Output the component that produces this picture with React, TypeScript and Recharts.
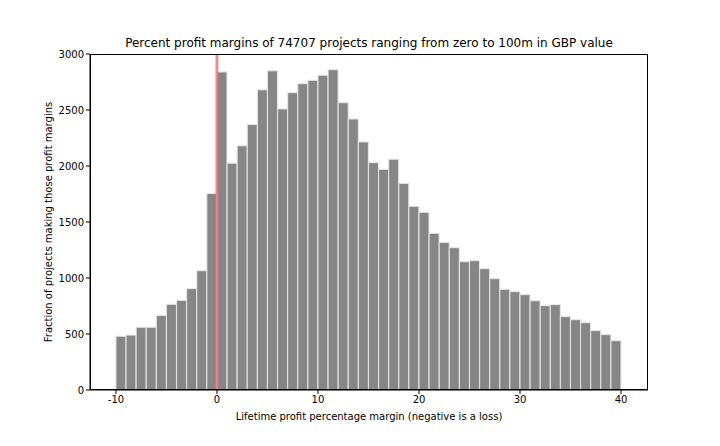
import { Bar, ComposedChart, ReferenceLine, XAxis, YAxis } from "recharts";

const binStarts = Array.from({ length: 50 }, (_, i) => i - 10);
const counts = [
  480, 490, 560, 560, 665, 765, 800, 905, 1065, 1755,
  2840, 2025, 2180, 2370, 2680, 2850, 2510, 2655, 2735, 2765,
  2810, 2860, 2565, 2420, 2215, 2030, 1970, 2060, 1845, 1640,
  1587, 1399, 1318, 1271, 1146, 1155, 1083, 994, 899, 878,
  851, 797, 753, 762, 655, 628, 601, 530, 494, 440,
];
const xTicks = [-10, 0, 10, 20, 30, 40];
const yTicks = [0, 500, 1000, 1500, 2000, 2500, 3000];

const data = binStarts.map((b, i) => ({ mid: b + 0.5, count: counts[i] }));

const font = "DejaVu Sans, sans-serif";

export default function App() {
  return (
    <div style={{ position: "absolute", left: 0, top: 0, width: 720, height: 446, fontFamily: font, background: "#fff" }}>
      <div style={{ position: "absolute", top: 36, left: 90, width: 558, textAlign: "center", fontSize: 12 }}>
        Percent profit margins of 74707 projects ranging from zero to 100m in GBP value
      </div>
      <ComposedChart
        width={720}
        height={446}
        data={data}
        margin={{ top: 54, right: 72, bottom: 26, left: 40 }}
        barCategoryGap={0}
      >
        <XAxis
          dataKey="mid"
          type="number"
          domain={[-12.57, 42.67]}
          ticks={xTicks}
          allowDataOverflow
          height={30}
          tick={{ fontSize: 10, fill: "#000", fontFamily: font }}
          tickSize={4}
          stroke="#000"
          label={{ value: "Lifetime profit percentage margin (negative is a loss)", position: "insideBottom", offset: 0, fontSize: 10, fill: "#000", fontFamily: font }}
        />
        <YAxis
          type="number"
          domain={[0, 3000]}
          ticks={yTicks}
          width={50}
          tick={{ fontSize: 10, fill: "#000", fontFamily: font }}
          tickSize={4}
          stroke="#000"
          label={{ value: "Fraction of projects making those profit margins", angle: -90, position: "insideLeft", offset: 8, dy: 0, fontSize: 10, fill: "#000", fontFamily: font, style: { textAnchor: "middle" } }}
        />
        <Bar dataKey="count" fill="#868686" stroke="#e6e6e6" strokeWidth={1} barSize={10} isAnimationActive={false} />
        <ReferenceLine x={0} stroke="#f07070" strokeOpacity={0.8} strokeWidth={3} />
      </ComposedChart>
      <div style={{ position: "absolute", left: 90, top: 54, width: 558, height: 336, border: "1px solid #000", boxSizing: "border-box", pointerEvents: "none" }} />
    </div>
  );
}
